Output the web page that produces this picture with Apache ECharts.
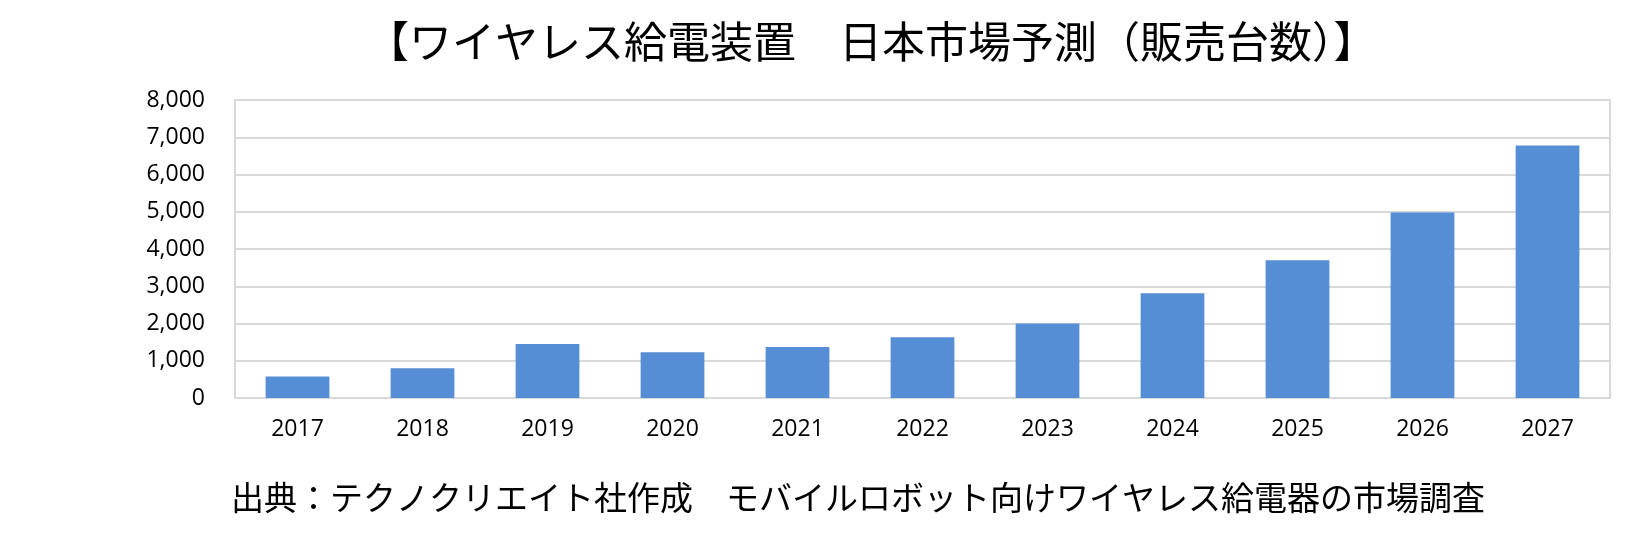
<!DOCTYPE html>
<html>
<head>
<meta charset="utf-8">
<script src="https://cdn.jsdelivr.net/npm/echarts@6/dist/echarts.min.js"></script>
<style>
    html, body {
        margin: 0;
        padding: 0;
        background: #fff;
    }

    #chart {
        width: 1650px;
        height: 537px;
    }
</style>
</head>
<body>
<div id="chart"></div>
<script>
const years = [
    "2017", "2018", "2019", "2020", "2021", "2022", "2023", "2024", "2025", "2026", "2027",
];
const salesUnits = [
    580, 800, 1450, 1230, 1370, 1630, 2000, 2810, 3700, 4980, 6780,
];
const titleText = "【ワイヤレス給電装置　日本市場予測（販売台数）】";
const sourceText = "出典：テクノクリエイト社作成　モバイルロボット向けワイヤレス給電器の市場調査";

const colorBar = "#558ed5";
const colorGrid = "#d9d9d9";
const cjkFont = "Noto Sans CJK JP";
const numFont = "Open Sans";

const chart = echarts.init(document.getElementById("chart"));

const option = {
    animation: false,
    title: [
        {
            text: titleText,
            left: 361,
            top: 15,
            textStyle: {
                fontFamily: cjkFont,
                fontSize: 43,
                fontWeight: "normal",
                color: "#000",
            },
        },
        {
            // 出典
            text: sourceText,
            left: 226,
            top: 476,
            textStyle: {
                fontFamily: cjkFont,
                fontSize: 33,
                fontWeight: "normal",
                color: "#000",
            },
        },
    ],
    grid: {
        left: 235,
        right: 40,
        top: 100,
        bottom: 139,
        show: true,
        borderColor: colorGrid,
        borderWidth: 2,
    },
    xAxis: {
        type: "category",
        data: years,
        axisLine: {
            lineStyle: { color: colorGrid, width: 2 },
        },
        axisTick: { show: false },
        axisLabel: {
            margin: 20,
            fontFamily: numFont,
            fontSize: 23,
            color: "#000",
        },
    },
    yAxis: {
        type: "value",
        min: 0,
        max: 8000,
        interval: 1000,
        axisLine: { show: false },
        axisTick: { show: false },
        axisLabel: {
            margin: 30,
            fontFamily: numFont,
            fontSize: 23,
            color: "#000",
            formatter: (value) => value.toLocaleString("en-US"),
        },
        splitLine: {
            lineStyle: { color: colorGrid, width: 2 },
        },
    },
    series: [
        {
            name: "販売台数",
            type: "bar",
            barWidth: "51%",
            itemStyle: { color: colorBar },
            data: salesUnits,
        },
    ],
};

chart.setOption(option);
</script>
</body>
</html>
